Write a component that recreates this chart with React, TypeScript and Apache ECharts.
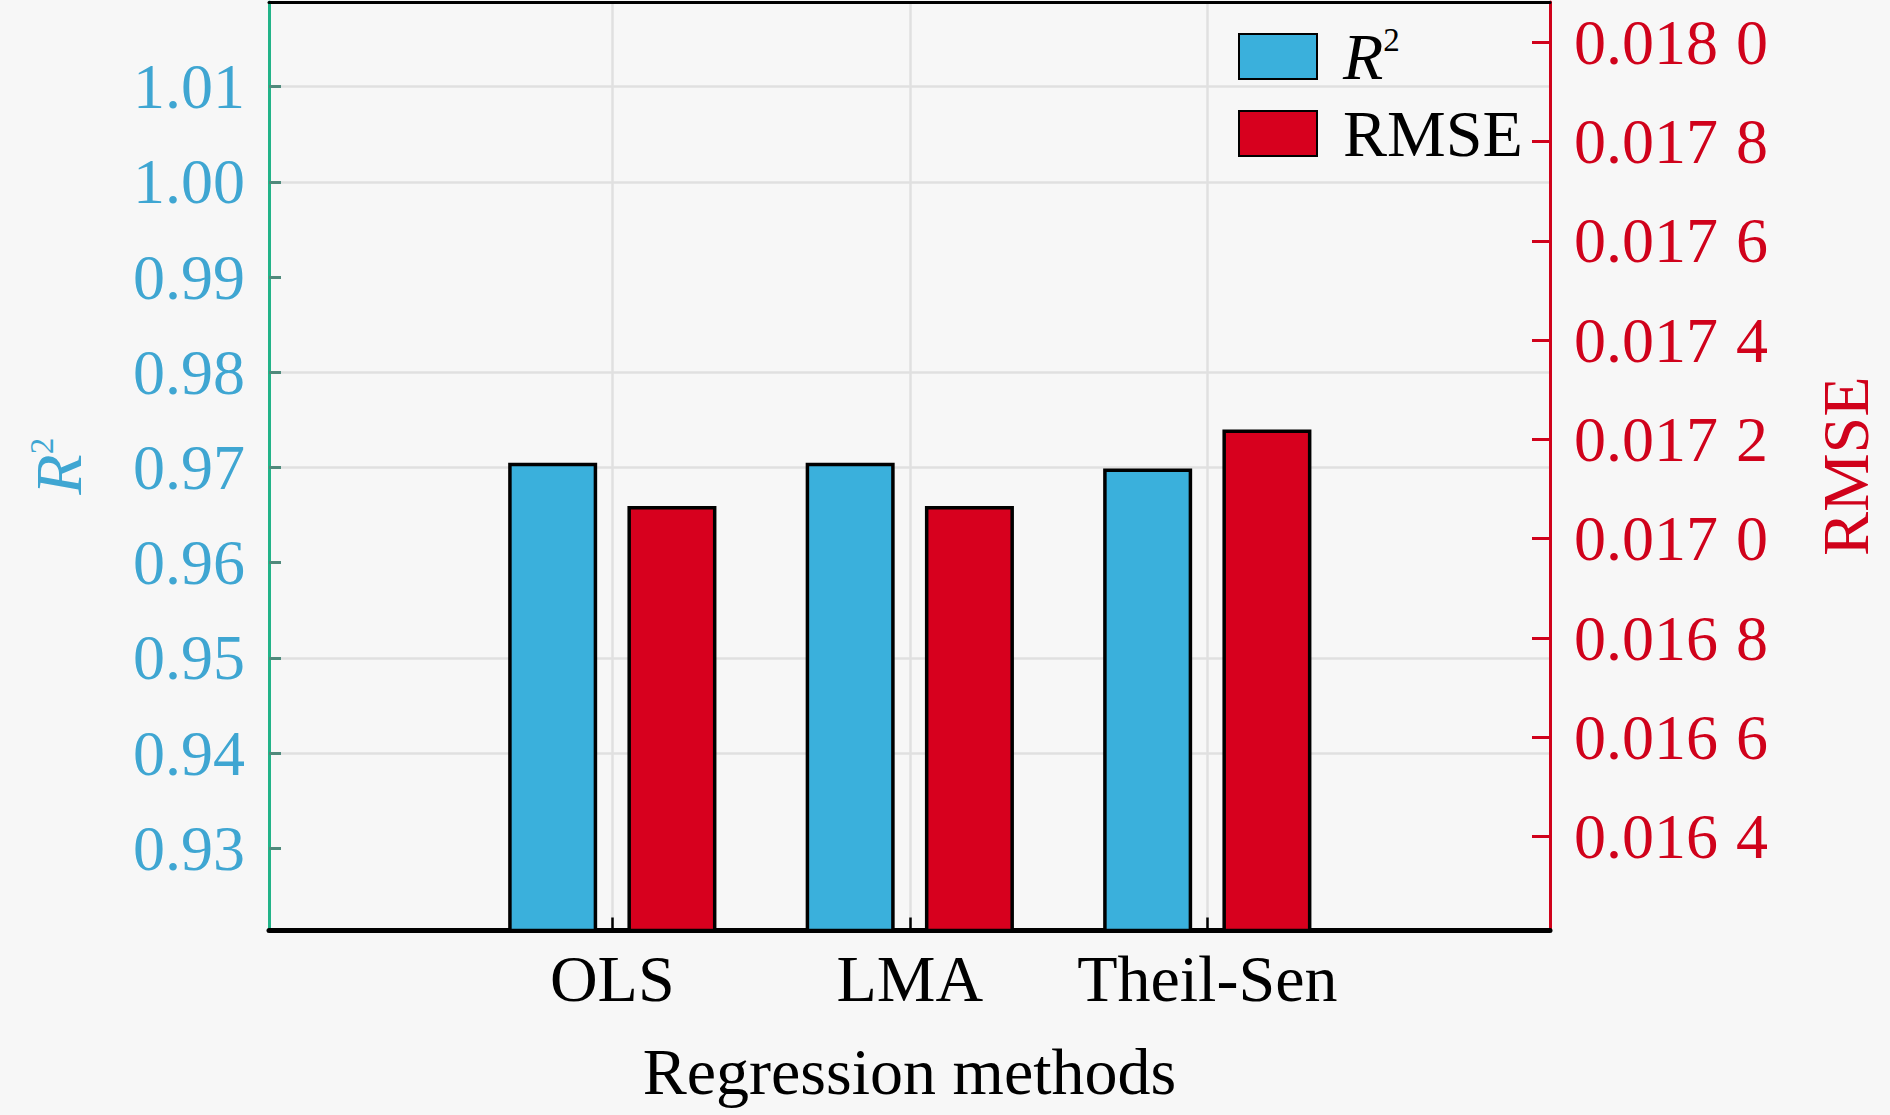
import React, { useEffect, useRef } from 'react';
import * as echarts from 'echarts';

const categories = ['OLS', 'LMA', 'Theil-Sen'];
const r2Values = [0.9705, 0.9705, 0.9699];
const rmseValues = [0.017066, 0.017066, 0.01722];
const r2Range = [0.92137, 1.0189];
const rmseRange = [0.016211, 0.018081];
const xRange = [-1.154, 3.152];
const r2Step = 0.01;
const rmseStep = 0.0002;
const gridLineValues = [1.01, 1.0, 0.98, 0.97, 0.95, 0.94];

const FONT = '"Liberation Serif", "Times New Roman", serif';
const BLUE = '#3AB0DC';
const RED = '#D7001E';
const R2_LABEL = '#3FA6D2';
const RMSE_LABEL = '#D0021B';

export default function App() {
  const ref = useRef<HTMLDivElement>(null);
  useEffect(() => {
    if (!ref.current) return;
    const chart = echarts.init(ref.current, undefined, { renderer: 'svg' });
    const isStep = (v: number, s: number) => Math.abs(v - Math.round(v / s) * s) < s * 1e-4;
    chart.setOption({
      animation: false,
      backgroundColor: '#f7f7f7',
      grid: { left: 269, right: 340, top: 2, bottom: 184.5, containLabel: false },
      legend: {
        orient: 'vertical',
        left: 1238,
        top: 23.5,
        padding: 0,
        itemWidth: 78,
        itemHeight: 45,
        itemGap: 11,
        icon: 'rect',
        data: ['R2', 'RMSE'],
        formatter: (n: string) => (n === 'R2' ? '{i|R}{s|2}' : '{n|RMSE}'),
        textStyle: {
          padding: [0, 0, 0, 21],
          rich: {
            i: { fontFamily: FONT, fontStyle: 'italic', fontSize: 66, color: '#000' },
            s: { fontFamily: FONT, fontSize: 33, color: '#000', verticalAlign: 'top' },
            n: { fontFamily: FONT, fontSize: 66, color: '#000' },
          },
        },
      },
      xAxis: [
        {
          type: 'value',
          min: xRange[0],
          max: xRange[1],
          position: 'bottom',
          name: 'Regression methods',
          nameLocation: 'middle',
          nameGap: 108,
          nameTextStyle: { fontFamily: FONT, fontSize: 66, color: '#000' },
          axisLine: { show: true, onZero: false, lineStyle: { color: '#000', width: 5 } },
          axisTick: { show: true, inside: true, length: 13, customValues: [0, 1, 2], lineStyle: { color: '#000', width: 2.5 } },
          axisLabel: {
            customValues: [0, 1, 2],
            margin: 15,
            fontFamily: FONT,
            fontSize: 66,
            color: '#000',
            formatter: (v: number) => categories[Math.round(v)] ?? '',
          },
          splitLine: { show: false },
        },
        {
          type: 'value',
          min: xRange[0],
          max: xRange[1],
          position: 'top',
          axisLine: { show: true, onZero: false, lineStyle: { color: '#000', width: 3 } },
          axisTick: { show: false },
          axisLabel: { show: false },
          splitLine: { show: false },
        },
      ],
      yAxis: [
        {
          type: 'value',
          position: 'left',
          min: r2Range[0],
          max: r2Range[1],
          splitNumber: 10,
          minInterval: r2Step,
          maxInterval: r2Step,
          name: '{i|R}{s|2}',
          nameLocation: 'middle',
          nameRotate: 90,
          nameGap: 178,
          nameTextStyle: {
            rich: {
              i: { fontFamily: FONT, fontStyle: 'italic', fontSize: 66, color: R2_LABEL },
              s: { fontFamily: FONT, fontSize: 33, color: R2_LABEL, verticalAlign: 'top' },
            },
          },
          axisLine: { show: true, onZero: false, lineStyle: { color: '#22B388', width: 3 } },
          axisTick: { show: true, inside: true, length: 12, lineStyle: { color: '#4F8A7C', width: 3 } },
          axisLabel: {
            margin: 24,
            fontFamily: FONT,
            fontSize: 64,
            color: R2_LABEL,
            showMinLabel: false,
            showMaxLabel: false,
            formatter: (v: number) => (isStep(v, r2Step) ? v.toFixed(2) : ''),
          },
          splitLine: { show: false },
        },
        {
          type: 'value',
          position: 'right',
          min: rmseRange[0],
          max: rmseRange[1],
          splitNumber: 9,
          minInterval: rmseStep,
          maxInterval: rmseStep,
          name: 'RMSE',
          nameLocation: 'middle',
          nameRotate: 90,
          nameGap: 262,
          nameTextStyle: { fontFamily: FONT, fontSize: 66, color: RMSE_LABEL },
          axisLine: { show: true, onZero: false, lineStyle: { color: RMSE_LABEL, width: 3 } },
          axisTick: { show: true, inside: true, length: 18, lineStyle: { color: RMSE_LABEL, width: 3 } },
          axisLabel: {
            margin: 24,
            showMinLabel: false,
            showMaxLabel: false,
            formatter: (v: number) => {
              if (!isStep(v, rmseStep)) return '';
              const s = v.toFixed(4);
              return `{a|${s.slice(0, 5)}}{sp|\u00a0}{a|${s.slice(5)}}`;
            },
            rich: {
              a: { fontFamily: FONT, fontSize: 64, color: RMSE_LABEL },
              sp: { fontFamily: FONT, fontSize: 64, width: 18 },
            },
          },
          splitLine: { show: false },
        },
      ],
      series: [
        {
          name: 'grid',
          type: 'line',
          xAxisIndex: 0,
          yAxisIndex: 0,
          data: [],
          silent: true,
          z: 0,
          markLine: {
            silent: true,
            symbol: 'none',
            z: 0,
            label: { show: false },
            lineStyle: { color: '#e0e0e0', type: 'solid', width: 2.5 },
            data: [
              ...gridLineValues.map((v) => ({ yAxis: v })),
              ...categories.map((_, i) => ({ xAxis: i })),
            ],
          },
        },
        {
          name: 'R2',
          type: 'bar',
          xAxisIndex: 0,
          yAxisIndex: 0,
          barWidth: 89,
          barGap: '34%',
          data: r2Values.map((v, i) => [i, v]),
          itemStyle: { color: BLUE, borderColor: '#000', borderWidth: 3.5 },
        },
        {
          name: 'RMSE',
          type: 'bar',
          xAxisIndex: 0,
          yAxisIndex: 1,
          barWidth: 89,
          barGap: '34%',
          data: rmseValues.map((v, i) => [i, v]),
          itemStyle: { color: RED, borderColor: '#000', borderWidth: 3.5 },
        },
      ],
    });
    return () => chart.dispose();
  }, []);
  return <div ref={ref} style={{ position: 'fixed', left: 0, top: 0, width: 1890, height: 1115 }} />;
}
